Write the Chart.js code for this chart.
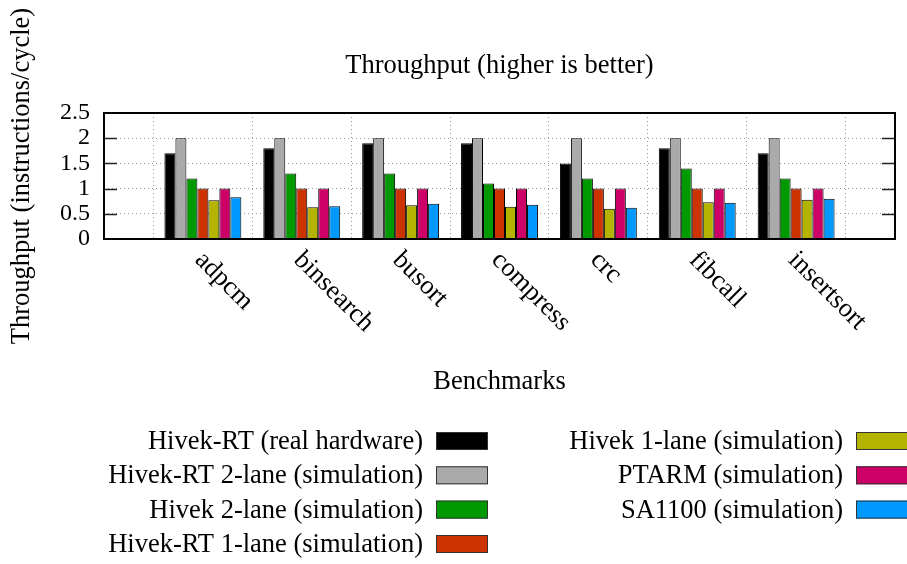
<!DOCTYPE html>
<html>
<head>
<meta charset="utf-8">
<script src="https://cdn.jsdelivr.net/npm/chart.js@4.4.1/dist/chart.umd.min.js"></script>
<style>
  html, body { margin: 0; padding: 0; background: #fff; }
  #wrap { width: 907px; height: 564px; }
</style>
</head>
<body>
<div id="wrap"><canvas id="chart" width="907" height="564"></canvas></div>
<script>
const benchmarks = ['adpcm', 'binsearch', 'busort', 'compress', 'crc', 'fibcall', 'insertsort'];

const hivekRtReal = [1.7, 1.8, 1.9, 1.9, 1.5, 1.8, 1.7];
const hivekRt2Lane = [2.0, 2.0, 2.0, 2.0, 2.0, 2.0, 2.0];
const hivek2Lane = [1.2, 1.3, 1.3, 1.1, 1.2, 1.4, 1.2];
const hivekRt1Lane = [1.0, 1.0, 1.0, 1.0, 1.0, 1.0, 1.0];
const hivek1Lane = [0.77, 0.63, 0.67, 0.64, 0.6, 0.73, 0.78];
const ptarm = [1.0, 1.0, 1.0, 1.0, 1.0, 1.0, 1.0];
const sa1100 = [0.83, 0.65, 0.7, 0.68, 0.62, 0.72, 0.8];

const seriesNames = [
    'Hivek-RT (real hardware)',
    'Hivek-RT 2-lane (simulation)',
    'Hivek 2-lane (simulation)',
    'Hivek-RT 1-lane (simulation)',
    'Hivek 1-lane (simulation)',
    'PTARM (simulation)',
    'SA1100 (simulation)'
];
const seriesValues = [hivekRtReal, hivekRt2Lane, hivek2Lane, hivekRt1Lane, hivek1Lane, ptarm, sa1100];
const seriesColors = ['#000000', '#aaaaaa', '#009900', '#cc3300', '#b3b300', '#cc0066', '#0099ff'];

const yTicks = { min: 0, max: 2.5, step: 0.5 };

const FONT = "'Liberation Serif', 'Times New Roman', serif";
const FS = 26.5;   // text
const TFS = 24;    // numbers on the y axis

// one empty slot on each side of the benchmarks, like the gnuplot x range
const labels = ['', ...benchmarks, ''];

const datasets = seriesNames.map((name, i) => ({
    label: name,
    data: [null, ...seriesValues[i], null],
    backgroundColor: seriesColors[i],
    borderColor: '#000',
    borderWidth: 1,
    xAxisID: 'x',
    yAxisID: 'y'
}));

// rotated benchmark names under the axis
const xLabelsPlugin = {
    id: 'xLabels',
    afterDraw(chart) {
        const ctx = chart.ctx;
        const xs = chart.scales.x;
        const y0 = chart.chartArea.bottom + 17;
        ctx.save();
        ctx.font = FS + 'px ' + FONT;
        ctx.fillStyle = '#000';
        ctx.textAlign = 'left';
        ctx.textBaseline = 'middle';
        benchmarks.forEach((name, i) => {
            const x = xs.getPixelForValue(i + 1) - 4;
            ctx.save();
            ctx.translate(x, y0);
            ctx.rotate(Math.PI / 4);
            ctx.fillText(name, 0, 0);
            ctx.restore();
        });
        ctx.restore();
    }
};

// plot frame + inward tick marks on both sides
const framePlugin = {
    id: 'frame',
    afterDatasetsDraw(chart) {
        const { ctx, chartArea: a } = chart;
        const ys = chart.scales.y;
        ctx.save();
        ctx.strokeStyle = '#222';
        ctx.lineWidth = 1.5;
        ys.ticks.forEach(t => {
            const py = Math.round(ys.getPixelForValue(t.value)) + 0.5;
            if (py <= a.top + 1 || py >= a.bottom - 1) return;
            ctx.beginPath();
            ctx.moveTo(a.left, py); ctx.lineTo(a.left + 13, py);
            ctx.moveTo(a.right, py); ctx.lineTo(a.right - 13, py);
            ctx.stroke();
        });
        ctx.lineWidth = 2;
        ctx.strokeStyle = '#000';
        ctx.strokeRect(a.left, a.top, a.right - a.left, a.bottom - a.top);
        ctx.restore();
    }
};

// two column legend, text right-aligned before the swatch
const legendPlugin = {
    id: 'sideLegend',
    afterDraw(chart) {
        const ctx = chart.ctx;
        const cols = [{ textRight: 423, boxLeft: 436 }, { textRight: 843, boxLeft: 856 }];
        const rowY = [441, 475.3, 509.6, 544];
        ctx.save();
        ctx.font = FS + 'px ' + FONT;
        ctx.textAlign = 'right';
        ctx.textBaseline = 'middle';
        chart.data.datasets.forEach((ds, i) => {
            const col = cols[i < 4 ? 0 : 1];
            const y = rowY[i < 4 ? i : i - 4];
            ctx.fillStyle = '#000';
            ctx.fillText(ds.label, col.textRight, y + 1);
            ctx.fillStyle = ds.backgroundColor;
            ctx.fillRect(col.boxLeft, y - 9, 52, 18);
            ctx.strokeStyle = '#333';
            ctx.lineWidth = 1;
            ctx.strokeRect(col.boxLeft + 0.5, y - 8.5, 51, 17);
        });
        ctx.restore();
    }
};

Chart.defaults.font.family = FONT;
Chart.defaults.font.size = FS;
Chart.defaults.color = '#000';

new Chart(document.getElementById('chart'), {
    type: 'bar',
    data: { labels: labels, datasets: datasets },
    options: {
        responsive: false,
        animation: false,
        layout: { padding: { left: 0, right: 12, top: 0, bottom: 165.6 } },
        datasets: {
            bar: { barPercentage: 1.0, categoryPercentage: 7 / 9 }
        },
        plugins: {
            legend: { display: false },
            tooltip: { enabled: false },
            title: { display: false }
        },
        scales: {
            x: {
                offset: false,
                grid: { color: '#999', lineWidth: 1, drawTicks: false },
                border: { display: false, dash: [1, 3] },
                ticks: { display: false },
                title: {
                    display: true,
                    text: 'Benchmarks',
                    padding: { top: 0, bottom: 0 }
                },
                afterFit(scale) { scale.height = 159.4; }
            },
            // top axis only carries the chart title, centred over the plot
            top: {
                type: 'category',
                position: 'top',
                offset: false,
                grid: { display: false },
                border: { display: false },
                ticks: { display: false },
                title: {
                    display: true,
                    text: 'Throughput (higher is better)',
                    padding: { top: 50.6, bottom: 0 }
                },
                afterFit(scale) { scale.height = 113; }
            },
            y: {
                min: yTicks.min,
                max: yTicks.max,
                grid: { color: '#999', lineWidth: 1, drawTicks: false },
                border: { display: false, dash: [1, 3] },
                ticks: {
                    stepSize: yTicks.step,
                    padding: 14,
                    autoSkip: false,
                    font: { size: TFS },
                    callback: v => String(v)
                },
                title: {
                    display: true,
                    text: 'Throughput (instructions/cycle)',
                    padding: { top: 6, bottom: 0 }
                },
                afterFit(scale) { scale.width = 104; }
            }
        }
    },
    plugins: [xLabelsPlugin, framePlugin, legendPlugin]
});
</script>
</body>
</html>
